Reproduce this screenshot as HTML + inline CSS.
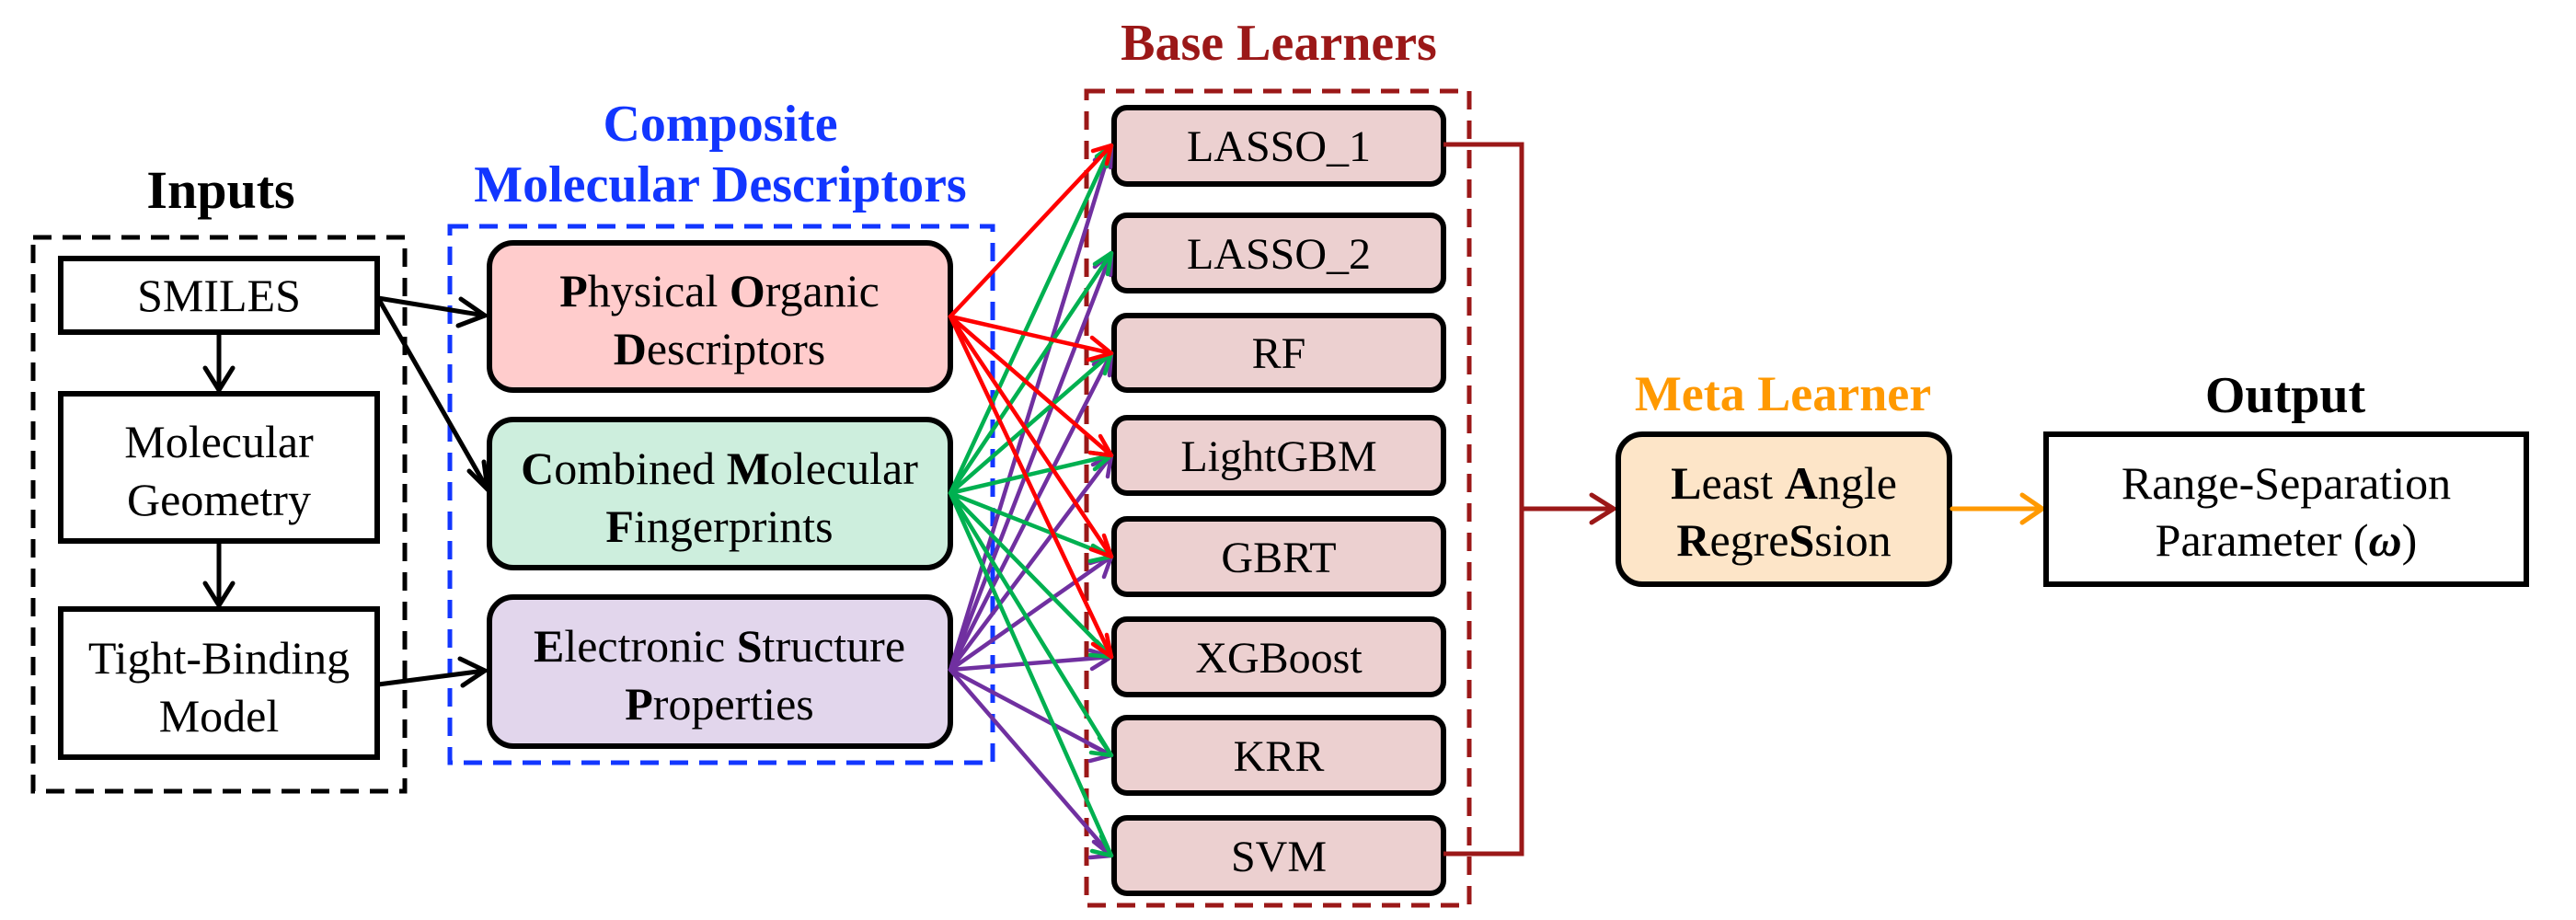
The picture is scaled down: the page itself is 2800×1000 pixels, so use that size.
<!DOCTYPE html>
<html><head><meta charset="utf-8"><style>
html,body{margin:0;padding:0;background:#fff;font-family:'Liberation Serif','Times New Roman',serif;}
svg{display:block;}
svg text{font-family:'Liberation Serif','Times New Roman',serif !important;}
</style></head><body>
<svg width="2800" height="1000" viewBox="0 0 2800 1000" xmlns="http://www.w3.org/2000/svg" font-family="Liberation Serif, Times New Roman, serif">
<g font-family="Liberation Serif, serif">
<!-- Titles -->
<text x="240" y="226" font-size="58" font-weight="bold" text-anchor="middle">Inputs</text>
<text x="783" y="153" font-size="56" font-weight="bold" fill="#1236ff" text-anchor="middle">Composite</text>
<text x="783" y="219" font-size="56" font-weight="bold" fill="#1236ff" text-anchor="middle">Molecular Descriptors</text>
<text x="1390" y="65" font-size="56" font-weight="bold" fill="#9b1818" text-anchor="middle">Base Learners</text>
<text x="1938" y="446" font-size="54" font-weight="bold" fill="#ff9900" text-anchor="middle">Meta Learner</text>
<text x="2484" y="448" font-size="56" font-weight="bold" text-anchor="middle">Output</text>

<!-- Dashed containers -->
<rect x="36" y="258" width="404" height="602" fill="none" stroke="#000" stroke-width="5" stroke-dasharray="20,12"/>
<rect x="489" y="246" width="590" height="583" fill="none" stroke="#1236ff" stroke-width="5" stroke-dasharray="20,12"/>
<rect x="1181" y="99" width="416" height="885" fill="none" stroke="#9b1818" stroke-width="5" stroke-dasharray="20,12"/>

<!-- Input boxes -->
<rect x="66" y="281" width="344" height="80" fill="#fff" stroke="#000" stroke-width="6"/>
<text x="238" y="338" font-size="50" text-anchor="middle">SMILES</text>
<rect x="66" y="428" width="344" height="160" fill="#fff" stroke="#000" stroke-width="6"/>
<text x="238" y="497" font-size="50" text-anchor="middle">Molecular</text>
<text x="238" y="560" font-size="50" text-anchor="middle">Geometry</text>
<rect x="66" y="662" width="344" height="161" fill="#fff" stroke="#000" stroke-width="6"/>
<text x="238" y="732" font-size="50" text-anchor="middle">Tight-Binding</text>
<text x="238" y="795" font-size="50" text-anchor="middle">Model</text>

<!-- black arrows -->
<g stroke="#000" stroke-width="5" fill="none" stroke-linecap="round">
<line x1="238" y1="362" x2="238" y2="424"/><path d="M223,400 L238,424 L253,400"/>
<line x1="238" y1="588" x2="238" y2="658"/><path d="M223,634 L238,658 L253,634"/>
<line x1="411" y1="324" x2="527" y2="343"/><path d="M501,325 L527,343 L498,354"/>
<line x1="411" y1="324" x2="530" y2="532"/><path d="M526,502 L530,532 L510,512"/>
<line x1="411" y1="744" x2="527" y2="729"/><path d="M500,716 L527,729 L503,745"/>
</g>

<!-- descriptor boxes -->
<rect x="532" y="264" width="501" height="160" rx="26" fill="#ffcccc" stroke="#000" stroke-width="6"/>
<text x="782" y="333" font-size="50" text-anchor="middle"><tspan font-weight="bold">P</tspan>hysical <tspan font-weight="bold">O</tspan>rganic</text>
<text x="782" y="396" font-size="50" text-anchor="middle"><tspan font-weight="bold">D</tspan>escriptors</text>
<rect x="532" y="456" width="501" height="161" rx="26" fill="#cdeedd" stroke="#000" stroke-width="6"/>
<text x="782" y="526" font-size="50" text-anchor="middle"><tspan font-weight="bold">C</tspan>ombined <tspan font-weight="bold">M</tspan>olecular</text>
<text x="782" y="589" font-size="50" text-anchor="middle"><tspan font-weight="bold">F</tspan>ingerprints</text>
<rect x="532" y="649" width="501" height="162" rx="26" fill="#e2d6ec" stroke="#000" stroke-width="6"/>
<text x="782" y="719" font-size="50" text-anchor="middle"><tspan font-weight="bold">E</tspan>lectronic <tspan font-weight="bold">S</tspan>tructure</text>
<text x="782" y="782" font-size="50" text-anchor="middle"><tspan font-weight="bold">P</tspan>roperties</text>

<!-- learner boxes -->
<g fill="#ecd0d0" stroke="#000" stroke-width="6">
<rect x="1211" y="117" width="358" height="83" rx="14"/>
<rect x="1211" y="234" width="358" height="82" rx="14"/>
<rect x="1211" y="343" width="358" height="81" rx="14"/>
<rect x="1211" y="454" width="358" height="82" rx="14"/>
<rect x="1211" y="564" width="358" height="82" rx="14"/>
<rect x="1211" y="673" width="358" height="82" rx="14"/>
<rect x="1211" y="780" width="358" height="82" rx="14"/>
<rect x="1211" y="889" width="358" height="82" rx="14"/>
</g>
<g font-size="48" text-anchor="middle">
<text x="1390" y="175">LASSO_1</text>
<text x="1390" y="292">LASSO_2</text>
<text x="1390" y="400">RF</text>
<text x="1390" y="512">LightGBM</text>
<text x="1390" y="622">GBRT</text>
<text x="1390" y="731">XGBoost</text>
<text x="1390" y="838">KRR</text>
<text x="1390" y="947">SVM</text>
</g>

<!-- fan-out connectors -->
<g stroke-width="4.5" fill="none" stroke-linecap="round" stroke-linejoin="round">
<g stroke="#7030a0">
<path d="M1033,728 L1208,158 M1190,174 L1208,158 L1207,182"/>
<path d="M1033,728 L1208,275 M1190,290 L1208,275 L1207,299"/>
<path d="M1033,728 L1208,384 M1189,396 L1208,384 L1206,408"/>
<path d="M1033,728 L1208,495 M1188,505 L1208,495 L1204,518"/>
<path d="M1033,728 L1208,605 M1185,612 L1208,605 L1200,627"/>
<path d="M1033,728 L1208,714 M1185,707 L1208,714 L1187,727"/>
<path d="M1033,728 L1208,821 M1186,810 L1208,821 L1185,827"/>
<path d="M1033,728 L1208,930 M1189,915 L1208,930 L1185,932"/>
</g>
<g stroke="#00b050">
<path d="M1033,536 L1208,158 M1192,170 L1208,158 L1203,181"/>
<path d="M1033,536 L1208,275 M1190,287 L1208,275 L1204,298"/>
<path d="M1033,536 L1208,384 M1187,392 L1208,384 L1201,406"/>
<path d="M1033,536 L1208,495 M1185,492 L1208,495 L1190,510"/>
<path d="M1033,536 L1208,605 M1188,593 L1208,605 L1185,610"/>
<path d="M1033,536 L1208,714 M1192,697 L1208,714 L1185,712"/>
<path d="M1033,536 L1208,821 M1195,802 L1208,821 L1186,818"/>
<path d="M1033,536 L1208,930 M1197,909 L1208,930 L1187,925"/>
</g>
<g stroke="#ff0000">
<path d="M1033,344 L1208,158 M1188,164 L1208,158 L1203,178"/>
<path d="M1033,344 L1208,384 M1187,367 L1208,384 L1183,391"/>
<path d="M1033,344 L1208,495 M1196,474 L1208,495 L1185,492"/>
<path d="M1033,344 L1208,605 M1200,582 L1208,605 L1186,597"/>
<path d="M1033,344 L1208,714 M1203,690 L1208,714 L1188,700"/>
</g>
</g>

<!-- meta connectors -->
<g stroke="#9b1818" stroke-width="5" fill="none">
<polyline points="1569,157 1654,157 1654,928 1569,928"/>
<line x1="1654" y1="553" x2="1754" y2="553"/>
<path d="M1730,538 L1754,553 L1730,568" stroke-linecap="round"/>
</g>
<rect x="1759" y="472" width="360" height="163" rx="26" fill="#fde5c8" stroke="#000" stroke-width="6"/>
<text x="1939" y="542" font-size="50" text-anchor="middle"><tspan font-weight="bold">L</tspan>east <tspan font-weight="bold">A</tspan>ngle</text>
<text x="1939" y="604" font-size="50" text-anchor="middle"><tspan font-weight="bold">R</tspan>egre<tspan font-weight="bold">S</tspan>sion</text>
<g stroke="#ff9900" stroke-width="5" fill="none" stroke-linecap="round">
<line x1="2122" y1="553" x2="2220" y2="553"/>
<path d="M2198,538 L2220,553 L2198,568"/>
</g>
<rect x="2224" y="472" width="522" height="163" fill="#fff" stroke="#000" stroke-width="6"/>
<text x="2485" y="542" font-size="50" text-anchor="middle">Range-Separation</text>
<text x="2485" y="604" font-size="50" text-anchor="middle">Parameter (<tspan font-weight="bold" font-style="italic">ω</tspan>)</text>
</g>
</svg>
</body></html>
